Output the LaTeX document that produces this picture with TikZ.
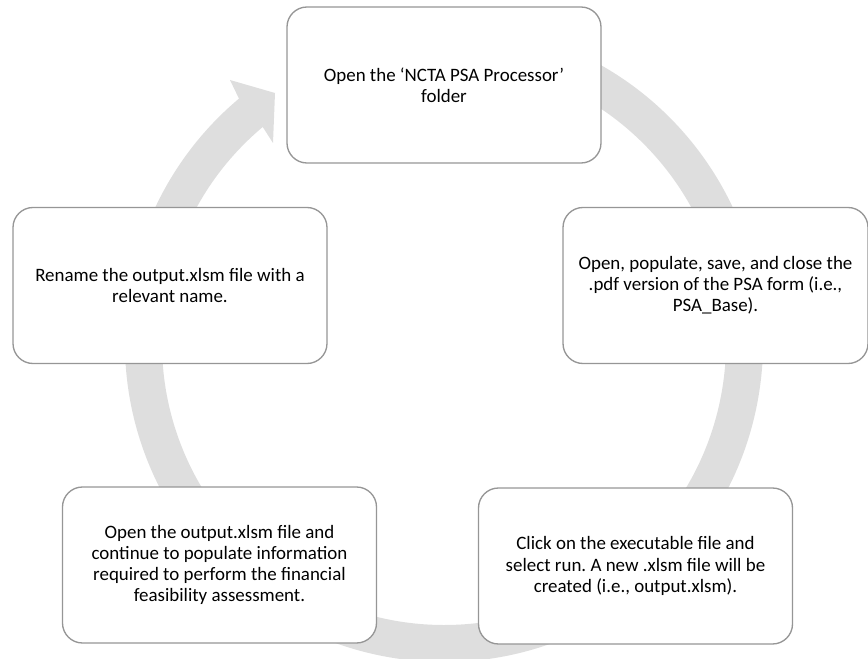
\documentclass[tikz,border=0pt]{standalone}
\usepackage{fontspec}
\setmainfont{Carlito}
\frenchspacing
\definecolor{ringgray}{RGB}{222,222,222}
\definecolor{boxline}{RGB}{150,150,150}
\tikzset{cyclebox/.style={draw=boxline, line width=1pt, fill=white, rounded corners=15pt,
    minimum width=235.5pt, minimum height=117pt, align=center,
    font=\fontsize{14.2}{15.9}\selectfont}}
\begin{document}
\begin{tikzpicture}[x=0.75pt,y=-0.75pt]
        \useasboundingbox (0,0) rectangle (868,659);

        % ring with its arrow head at the top left
        \fill[ringgray, shift={(444,343)}] (-80:319) arc[start angle=-80, end angle=230, radius=319]
            -- (-214,-263) -- (-169,-250) -- (-171,-200) -- (230:282)
            arc[start angle=230, end angle=-80, radius=282] -- cycle;

        \node[cyclebox] (open) at (444,85) {Open the ‘NCTA PSA Processor’\\folder};
        \node[cyclebox, minimum width=228.75pt] (populate) at (715.5,285.5) {Open, populate, save, and close the\\.pdf version of the PSA form (i.e.,\\PSA\_Base).};
        \node[cyclebox] (run) at (635.5,566) {Click on the executable file and\\select run. A new .xlsm file will be\\created (i.e., output.xlsm).};
        \node[cyclebox] (continue) at (219.5,565) {Open the output.xlsm file and\\continue to populate information\\required to perform the financial\\feasibility assessment.};
        \node[cyclebox] (rename) at (170,285.5) {Rename the output.xlsm file with a\\relevant name.};
    \end{tikzpicture}
\end{document}
